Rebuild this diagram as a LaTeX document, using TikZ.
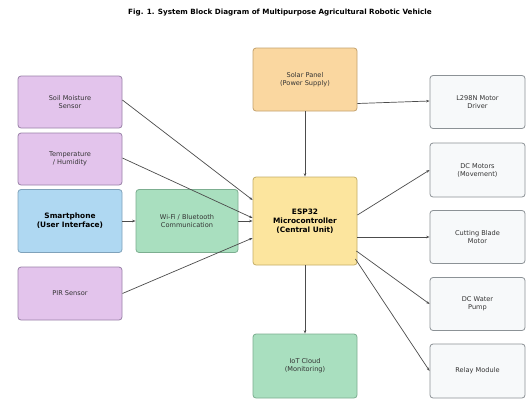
\documentclass[tikz,border=0pt]{standalone}
\usepackage{fontspec}
\setmainfont{DejaVu Sans}
\usetikzlibrary{arrows.meta}
\definecolor{purp}{HTML}{E3C4EC}
\definecolor{purpd}{HTML}{9A82A8}
\definecolor{blu}{HTML}{AFD8F2}
\definecolor{blud}{HTML}{7FA2BA}
\definecolor{grn}{HTML}{A9DFBF}
\definecolor{grnd}{HTML}{7CAE90}
\definecolor{org}{HTML}{FAD7A0}
\definecolor{orgd}{HTML}{C4A26E}
\definecolor{yel}{HTML}{FCE59E}
\definecolor{yeld}{HTML}{C4AE66}
\definecolor{wht}{HTML}{F7F9FA}
\definecolor{whtd}{HTML}{8C9296}
\definecolor{txt}{HTML}{333333}
\tikzset{
  box/.style={draw, rounded corners=3pt, line width=0.8pt, inner sep=0pt, align=center,
    font=\fontsize{6.6}{8}\selectfont, text=txt},
  bbox/.style={box, font=\fontsize{7.4}{8.8}\selectfont\bfseries, text=black},
  lbox/.style={minimum width=104pt, minimum height=52pt},
  arr/.style={-{Stealth[length=3.5pt,width=2.5pt]}, line width=0.7pt, draw=black!70}
}
\begin{document}
\begin{tikzpicture}[x=1pt,y=1pt]
\useasboundingbox (0,0) rectangle (526,-400);
\fill[white] (0,0) rectangle (526,-400);
\node[font=\fontsize{7.2}{8.5}\selectfont\bfseries] (title) at (280,-13) {Fig. 1. System Block Diagram of Multipurpose Agricultural Robotic Vehicle};
% left column
\node[box, lbox, fill=purp, draw=purpd] (soil) at (70,-102) {Soil Moisture\\Sensor};
\node[box, lbox, fill=purp, draw=purpd] (temp) at (70,-159) {Temperature\\/ Humidity};
\node[bbox, minimum width=104pt, minimum height=63pt, fill=blu, draw=blud] (phone) at (70,-221) {Smartphone\\(User Interface)};
\node[box, minimum width=104pt, minimum height=53pt, fill=purp, draw=purpd] (pir) at (70,-293.5) {PIR Sensor};
% middle
\node[box, minimum width=102pt, minimum height=63pt, fill=grn, draw=grnd] (wifi) at (187,-221) {Wi-Fi / Bluetooth\\Communication};
\node[box, minimum width=104pt, minimum height=63pt, fill=org, draw=orgd] (solar) at (305,-79.5) {Solar Panel\\(Power Supply)};
\node[bbox, minimum width=104pt, minimum height=88pt, fill=yel, draw=yeld] (esp) at (305,-221) {ESP32\\Microcontroller\\(Central Unit)};
\node[box, minimum width=104pt, minimum height=64pt, fill=grn, draw=grnd] (iot) at (305,-366) {IoT Cloud\\(Monitoring)};
% right column
\node[box, minimum width=95pt, minimum height=53pt, fill=wht, draw=whtd] (l298) at (477.5,-102) {L298N Motor\\Driver};
\node[box, minimum width=95pt, minimum height=54pt, fill=wht, draw=whtd] (dcm) at (477.5,-170) {DC Motors\\(Movement)};
\node[box, minimum width=95pt, minimum height=53pt, fill=wht, draw=whtd] (blade) at (477.5,-237) {Cutting Blade\\Motor};
\node[box, minimum width=95pt, minimum height=53pt, fill=wht, draw=whtd] (pump) at (477.5,-304) {DC Water\\Pump};
\node[box, minimum width=95pt, minimum height=54pt, fill=wht, draw=whtd] (relay) at (477.5,-371) {Relay Module};
% connectors
\draw[arr] ([yshift=2pt]soil.east) -- ([yshift=21pt]esp.west);
\draw[arr] ([yshift=1pt]temp.east) -- ([yshift=3pt]esp.west);
\draw[arr] (phone.east) -- (wifi.west);
\draw[arr] (wifi.east) -- (esp.west);
\draw[arr] (pir.east) -- ([yshift=-17pt]esp.west);
\draw[arr] (solar.south) -- (esp.north);
\draw[arr] ([yshift=-24pt]solar.east) -- ([yshift=1pt]l298.west);
\draw[arr] ([yshift=6pt]esp.east) -- (dcm.west);
\draw[arr] ([yshift=-16pt]esp.east) -- (blade.west);
\draw[arr] ([xshift=-1pt,yshift=-30pt]esp.east) -- (pump.west);
\draw[arr] ([xshift=-2pt,yshift=-38pt]esp.east) -- (relay.west);
\draw[arr] (esp.south) -- (iot.north);
\end{tikzpicture}
\end{document}
